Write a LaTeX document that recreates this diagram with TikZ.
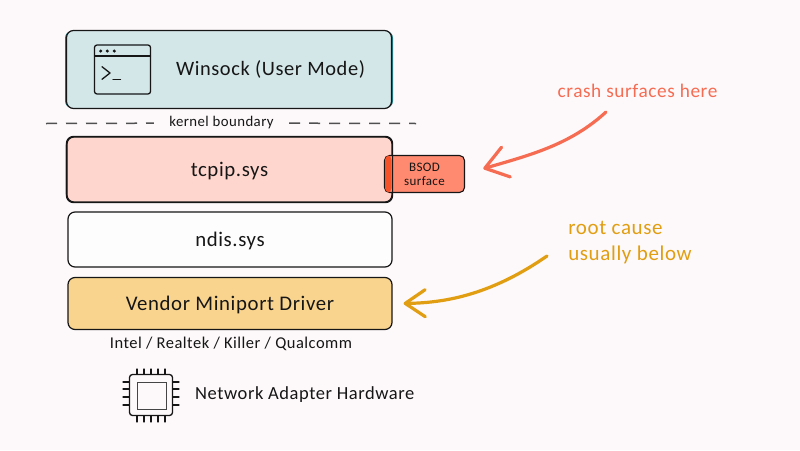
\documentclass[tikz,border=0pt]{standalone}
\usepackage{fontspec}
\setmainfont[LetterSpace=3]{Carlito}
\usetikzlibrary{arrows.meta}
\definecolor{pagebg}{HTML}{FDF9FA}
\definecolor{inkdark}{HTML}{161616}
\definecolor{winsockfill}{HTML}{D3E6E8}
\definecolor{winsockedge}{HTML}{1F7F86}
\definecolor{tcpipfill}{HTML}{FFD6CD}
\definecolor{tcpipedge}{HTML}{F0492A}
\definecolor{vendorfill}{HTML}{F9D48F}
\definecolor{bsodfill}{HTML}{FF8A70}
\definecolor{bsoddark}{HTML}{F5522A}
\definecolor{crashcolor}{HTML}{F66C52}
\definecolor{rootcolor}{HTML}{E19E12}
\tikzset{
  layerbox/.style={draw=inkdark,line width=1.2pt,rounded corners=7pt,minimum width=325pt,text=inkdark,font=\fontsize{20.8}{24}\selectfont,text depth=0pt,inner sep=0pt},
  plainlabel/.style={text=inkdark,inner sep=0pt},
  iconline/.style={draw=inkdark,line width=1.3pt,line cap=round,line join=round},
  crasharrow/.style={draw=crashcolor,line width=3.2pt,line cap=round,-{Straight Barb[length=22pt,width=31pt,round]}},
  rootarrow/.style={draw=rootcolor,line width=3.2pt,line cap=round,-{Straight Barb[length=20pt,width=27pt,round]}}
}
\begin{document}
\begin{tikzpicture}[x=1pt,y=-1pt]
\useasboundingbox (0,0) rectangle (800,450);
\fill[pagebg] (0,0) rectangle (800,450);
% coloured edges under the boxes
\fill[winsockedge,rounded corners=7pt] (65,31) rectangle (393,108);
\fill[tcpipedge,rounded corners=7pt] (65.5,139) rectangle (392,200);
% layers
\node[layerbox,fill=winsockfill,minimum height=78pt] (winsock) at (229,69.5) {};
\node[plainlabel,font=\fontsize{20.4}{24}\selectfont] (winsocklabel) at (270.5,69) {Winsock (User Mode)};
\node[layerbox,fill=tcpipfill,minimum height=65pt] (tcpip) at (229.5,169.5) {tcpip.sys};
\node[layerbox,fill=white!60!pagebg,minimum height=55pt,minimum width=324pt] (ndis) at (230,239.5) {ndis.sys};
\node[layerbox,fill=vendorfill,minimum height=52pt,minimum width=324pt] (vendor) at (230,303.5) {Vendor Miniport Driver};
% bsod tag over the tcpip edge
\node[draw=inkdark,line width=1.1pt,fill=bsodfill,rounded corners=5pt,minimum width=80pt,minimum height=37pt,align=center,inner sep=0pt,text=inkdark,font=\fontsize{13}{14}\selectfont] (bsod) at (424.5,174) {BSOD\\surface};
\fill[bsoddark,rounded corners=4pt] (385,155.7) rectangle (391.5,192.3);
\draw[draw=inkdark,line width=1.2pt,rounded corners=7pt] (tcpip.south west) rectangle (tcpip.north east);
% kernel boundary
\coordinate (boundleft) at (46,123.5);
\coordinate (boundright) at (416,123.5);
\node[plainlabel,minimum width=135pt,font=\fontsize{14.8}{16}\selectfont] (kernel) at (221.5,123) {kernel boundary};
\path[draw=inkdark!75,line width=1.5pt,dash pattern=on 11pt off 9pt](boundleft) -- (kernel);
\path[draw=inkdark!75,line width=1.5pt,dash pattern=on 11pt off 9pt](kernel) -- (boundright);
% terminal icon
\node[iconline,minimum width=56pt,minimum height=49pt,rounded corners=2.5pt,inner sep=0pt] (terminal) at (122.5,69.5) {};
\draw[iconline] (94.5,56) -- (150.5,56);
\fill[inkdark] (100.7,51) circle (1.7) (107.3,51) circle (1.7) (114.3,51) circle (1.7);
\draw[iconline] (102,66.7) -- (110,73) -- (102,79.3);
\draw[iconline] (113,79.5) -- (120.5,79.5);
% captions
\node[plainlabel,font=\fontsize{16.5}{18}\selectfont] (vendornames) at (231,344) {Intel / Realtek / Killer / Qualcomm};
\node[plainlabel,anchor=west,font=\fontsize{18.5}{20}\selectfont] (hardware) at (195,395) {Network Adapter Hardware};
% chip icon
\node[iconline,minimum width=43pt,minimum height=41pt,rounded corners=3pt,inner sep=0pt] (chip) at (151,395) {};
\node[draw=inkdark!80,line width=1pt,minimum width=29pt,minimum height=27pt,inner sep=0pt] (chipcore) at (151.5,395.5) {};
\draw[iconline,line width=1.1pt] (137,369) -- (137,374) (144,369) -- (144,374) (151,369) -- (151,374) (158,369) -- (158,374) (165,369) -- (165,374);
\draw[iconline,line width=1.1pt] (137,416) -- (137,422) (144,416) -- (144,422) (151,416) -- (151,422) (158,416) -- (158,422) (165,416) -- (165,422);
\draw[iconline,line width=1.1pt] (123,382) -- (129,382) (123,389) -- (129,389) (123,397) -- (129,397) (123,405) -- (129,405);
\draw[iconline,line width=1.1pt] (173,382) -- (179,382) (173,389) -- (179,389) (173,397) -- (179,397) (173,405) -- (179,405);
% notes and arrows
\node[plainlabel,text=crashcolor,font=\fontsize{19.3}{24}\selectfont] (crash) at (637.5,91) {crash surfaces here};
\node[plainlabel,text=rootcolor,font=\fontsize{21}{26}\selectfont,align=left] (rootnote) at (630,243) {root cause\\usually below};
\coordinate (crashtail) at (606,112);
\coordinate (roottail) at (547,256);
\draw[crasharrow,shorten >=19pt] (crashtail) .. controls (570,145) and (530,155) .. (bsod.east);
\draw[rootarrow,shorten >=11pt] (roottail) .. controls (495,292) and (450,303) .. (vendor.east);
\end{tikzpicture}
\end{document}
